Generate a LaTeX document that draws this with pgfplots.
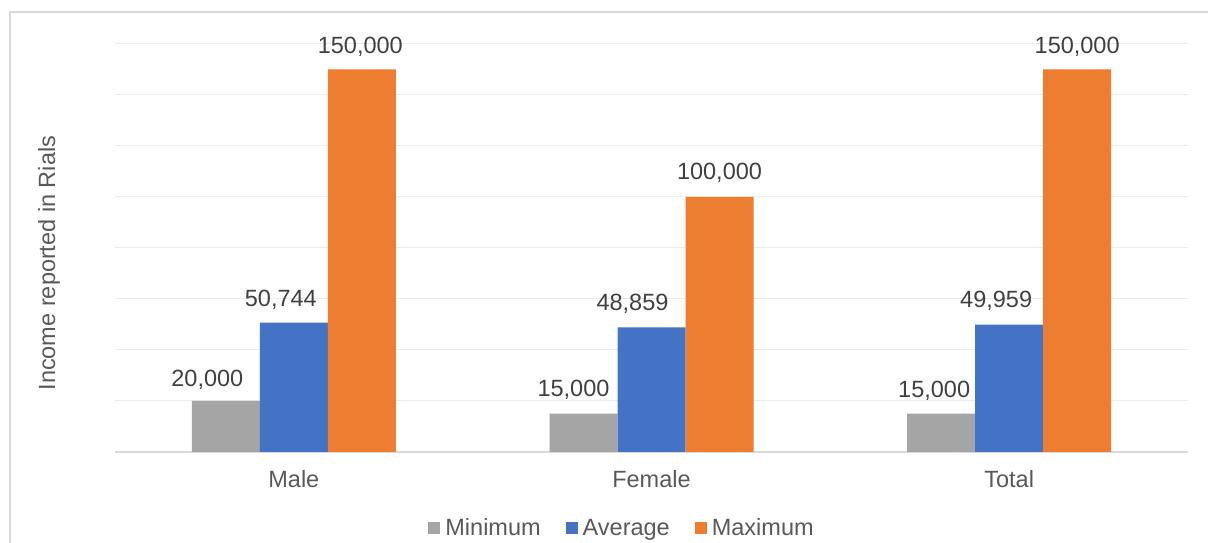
\documentclass[border=0pt]{standalone}
\usepackage{pgfplots}
\usepackage{pgfplotstable}
\pgfplotsset{compat=1.18}
\usepackage{fontspec}
\setmainfont{Liberation Sans}
\definecolor{cmin}{HTML}{A5A5A5}
\definecolor{cavg}{HTML}{4472C4}
\definecolor{cmax}{HTML}{ED7D31}
\definecolor{txt}{HTML}{595959}
\definecolor{lbl}{HTML}{404040}
\definecolor{gridc}{HTML}{EBEBEB}
\definecolor{axisc}{HTML}{D9D9D9}
\newcommand\chfont{\fontsize{23.5}{28}\selectfont}
% x = category index, y = value, dx/dy = data label offsets (pt)
\pgfplotstableread{
x y dx dy
0 20000 -18.5 14.5
1 15000 -10 17
2 15000 -7 16.5
}\tmin
\pgfplotstableread{
x y dx dy
0 50744 -13 16.5
1 48859 -19 17
2 49959 -13 17
}\tavg
\pgfplotstableread{
x y dx dy
0 150000 -1.5 16
1 100000 0 17
2 150000 0 16
}\tmax
\begin{document}
\begin{tikzpicture}[x=1pt,y=1pt]
\path[use as bounding box] (0,0) rectangle (1208,543);
\draw[axisc, line width=1.5pt] (10,-5) -- (10,531) -- (1215,531);
\begin{axis}[
  at={(115pt,91pt)}, anchor=south west,
  scale only axis, width=1073pt, height=408pt,
  ybar=0pt, bar width=68pt,
  xmin=-0.5, xmax=2.5, ymin=0, ymax=160000,
  xtick={0,1,2}, xticklabels={Male,Female,Total},
  ytick={0,20000,...,160000}, yticklabels={}, scaled y ticks=false,
  ymajorgrids, grid style={gridc, line width=1pt},
  major tick length=0pt,
  axis x line*=bottom, axis y line*=left,
  x axis line style={axisc, line width=1.5pt, -},
  y axis line style={draw=none},
  clip=false,
  xticklabel style={font=\chfont, text=txt, anchor=base, inner sep=0pt, yshift=-36pt},
  ylabel={Income reported in Rials},
  every axis y label/.style={at={(axis description cs:-0.0559,0.463)}, rotate=90, anchor=base, font=\chfont, text=txt, inner sep=0pt},
  nodes near coords,
  visualization depends on={\thisrow{dx}\as\dx},
  visualization depends on={\thisrow{dy}\as\dy},
  every node near coord/.append style={anchor=base, xshift=\dx, yshift=\dy, inner sep=0pt, font=\chfont, text=lbl},
  legend columns=3,
  legend style={at={(axis description cs:0.4716,-0.186)}, anchor=center, draw=none, fill=none,
    font=\chfont, text=txt, nodes={inner sep=0pt},
    /tikz/every odd column/.append style={column sep=5pt},
    /tikz/every even column/.append style={column sep=25pt}},
  legend image code/.code={\path[#1,draw=none] (0pt,-6pt) rectangle (12pt,6pt);},
  /pgf/number format/fixed,
  /pgf/number format/precision=0,
  /pgf/number format/1000 sep={,},
  /pgf/number format/assume math mode=true,
]
\addplot[fill=cmin, draw=none] table[x=x, y=y] {\tmin};
\addplot[fill=cavg, draw=none] table[x=x, y=y] {\tavg};
\addplot[fill=cmax, draw=none] table[x=x, y=y] {\tmax};
\legend{Minimum,Average,Maximum}
\end{axis}
\end{tikzpicture}
\end{document}
